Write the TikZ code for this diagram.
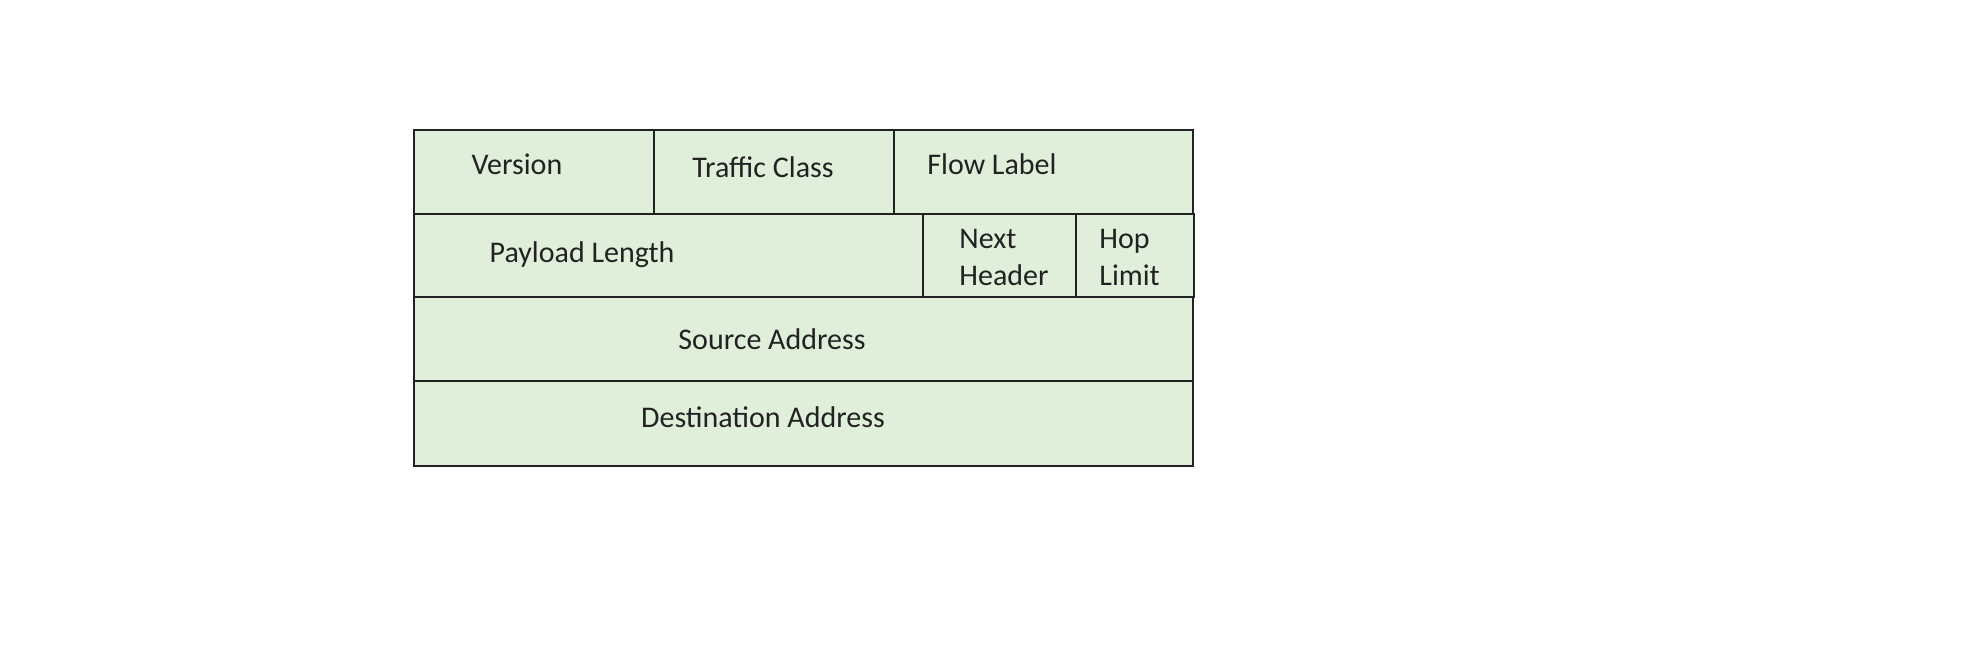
\documentclass[tikz,border=0pt]{standalone}
\usepackage{fontspec}
\setmainfont{Carlito}
\usetikzlibrary{fit}
\definecolor{fieldgreen}{HTML}{DFEFD9}
\definecolor{inkc}{HTML}{222222}
\begin{document}
\begin{tikzpicture}[x=0.5pt,y=-0.5pt,
  field/.style={draw=inkc, fill=fieldgreen, line width=1pt, inner sep=0pt},
  thickfield/.style={field, line width=1.3pt},
  lbl/.style={text=inkc, inner sep=0pt, font=\fontsize{15}{18.5}\selectfont},
]
\useasboundingbox (0,0) rectangle (1984,662);
% corners
\coordinate (a1) at (414,130); \coordinate (a2) at (654,214);
\coordinate (b1) at (654,130); \coordinate (b2) at (894,214);
\coordinate (c1) at (894,130); \coordinate (c2) at (1193,214);
\coordinate (d1) at (414,214); \coordinate (d2) at (923,297);
\coordinate (e1) at (923,214); \coordinate (e2) at (1076,297);
\coordinate (f1) at (1076,214); \coordinate (f2) at (1194,297);
\coordinate (g1) at (414,297); \coordinate (g2) at (1193,381);
\coordinate (h1) at (414,381); \coordinate (h2) at (1193,466);
% field boxes
\node[field, fit=(a1)(a2)] (ver) {};
\node[field, fit=(b1)(b2)] (tc) {};
\node[field, fit=(c1)(c2)] (fl) {};
\node[field, fit=(d1)(d2)] (pl) {};
\node[field, fit=(g1)(g2)] (src) {};
\node[field, fit=(h1)(h2)] (dst) {};
\node[thickfield, fit=(e1)(e2)] (nh) {};
\node[thickfield, fit=(f1)(f2)] (hl) {};
% labels
\node[lbl, anchor=base] (tver) at (517,175) {Version};
\node[lbl, anchor=base] (ttc) at (763,178) {Traffic Class};
\node[lbl, anchor=base] (tfl) at (992,175) {Flow Label};
\node[lbl, anchor=base] (tpl) at (582,263) {Payload Length};
\node[lbl, anchor=north west, align=left] (tnh) at (959,229) {Next\\Header};
\node[lbl, anchor=north west, align=left] (thl) at (1099,229) {Hop\\Limit};
\node[lbl, anchor=base] (tsrc) at (772,350) {Source Address};
\node[lbl, anchor=base] (tdst) at (763,427) {Destination Address};
\end{tikzpicture}
\end{document}
